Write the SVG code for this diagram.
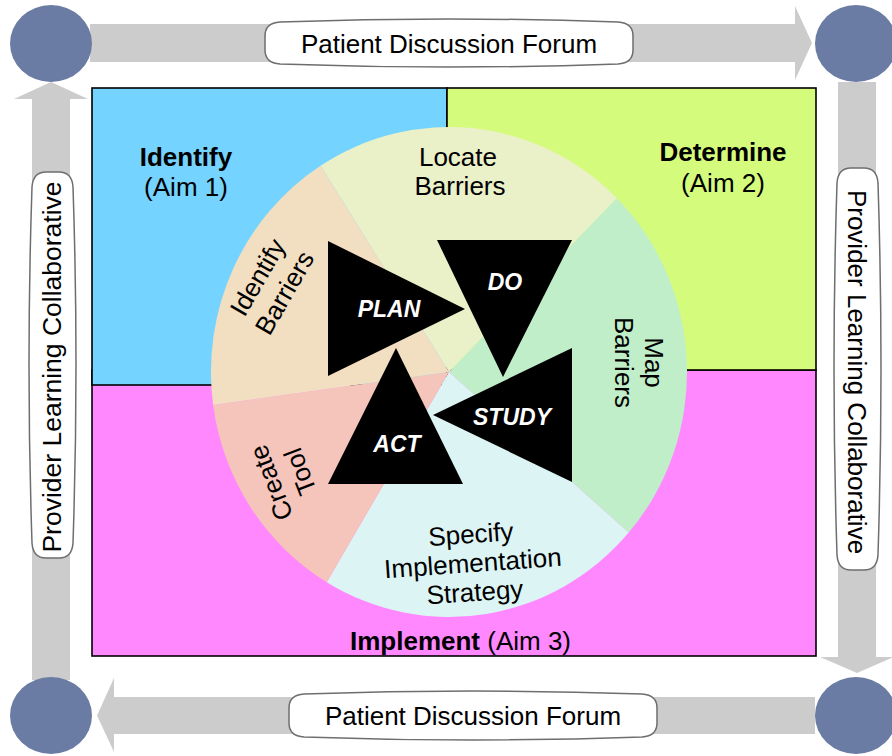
<svg xmlns="http://www.w3.org/2000/svg" width="892" height="756" viewBox="0 0 892 756">
<style>
text{font-family:"Liberation Sans",Arial,sans-serif;font-size:26px;fill:#000}
.c{text-anchor:middle}
.b{font-weight:bold}
.tri{fill:#000}
.tt{font-weight:bold;font-style:italic;fill:#fff;font-size:23px;text-anchor:middle}
.arr{fill:#CCCCCC}
.dot{fill:#6A7BA4}
.lab{fill:#fff;stroke:#6E6E6E;stroke-width:1.5}
.q{stroke:#000;stroke-width:1.6}
</style>
<g id="quadrants">
<rect id="implement" class="q" x="92" y="370" width="724" height="286" fill="#FF88FF"/>
<rect id="identify" class="q" x="92" y="88" width="355" height="297" fill="#74D3FF"/>
<rect id="determine" class="q" x="447" y="88" width="369" height="282" fill="#D5FB7D"/>
</g>
<g id="pie">
<path id="seg-locate" d="M449 372 L320.5 165.8 A238 245 0 0 1 616.8 198.2 Z" fill="#EAF0C8"/>
<path id="seg-map" d="M449 372 L616.8 198.2 A238 245 0 0 1 628.7 532.6 Z" fill="#C0EEC8"/>
<path id="seg-specify" d="M449 372 L628.7 532.6 A238 245 0 0 1 326.7 582.2 Z" fill="#DCF4F4"/>
<path id="seg-create" d="M449 372 L326.7 582.2 A238 245 0 0 1 213.1 405 Z" fill="#F5C4BA"/>
<path id="seg-identify" d="M449 372 L213.1 405 A238 245 0 0 1 320.5 165.8 Z" fill="#F2DEC0"/>
</g>
<g id="connectors">
<path id="arrow-top" class="arr" d="M90 24 L795 24 L795 6 L812 43 L795 80 L795 62 L90 62 Z"/>
<path id="arrow-right" class="arr" d="M838 82 L876 82 L876 657 L894 657 L857 673 L820 657 L838 657 Z"/>
<path id="arrow-bottom" class="arr" d="M815 697 L815 734 L114 734 L114 752 L97 715.5 L114 678 L114 697 Z"/>
<path id="arrow-left" class="arr" d="M32 680 L32 99 L14 99 L51 82 L88 99 L70 99 L70 680 Z"/>
</g>
<g id="corner-tl"><ellipse class="dot" cx="51" cy="43.5" rx="41" ry="38.5"/></g>
<g id="corner-tr"><ellipse class="dot" cx="856" cy="43.5" rx="41" ry="38.5"/></g>
<g id="corner-bl"><ellipse class="dot" cx="51" cy="715.5" rx="41" ry="38.5"/></g>
<g id="corner-br"><ellipse class="dot" cx="856" cy="715.5" rx="41" ry="38.5"/></g>
<g id="label-top">
<path class="lab" d="M280 22 Q449 16 618 22 Q633 23 633 36 L633 50 Q633 63 618 64 Q449 70 280 64 Q265 63 265 50 L265 36 Q265 23 280 22 Z"/>
<text class="c" x="449" y="53">Patient Discussion Forum</text>
</g>
<g id="label-bottom">
<path class="lab" d="M304 694 Q473 688 642 694 Q657 695 657 708 L657 723 Q657 736 642 737 Q473 743 304 737 Q289 736 289 723 L289 708 Q289 695 304 694 Z"/>
<text class="c" x="473" y="725">Patient Discussion Forum</text>
</g>
<g id="label-left">
<path class="lab" d="M32 187 Q26 365 32 543 Q33 558 46 558 L59 558 Q72 558 73 543 Q79 365 73 187 Q72 172 59 172 L46 172 Q33 172 32 187 Z"/>
<text class="c" transform="translate(61 367) rotate(-90)" style="font-size:26.5px">Provider Learning Collaborative</text>
</g>
<g id="label-right">
<path class="lab" d="M837 183 Q831 369 837 555 Q838 570 851 570 L864 570 Q877 570 878 555 Q884 369 878 183 Q877 168 864 168 L851 168 Q838 168 837 183 Z"/>
<text class="c" transform="translate(848 372) rotate(90)" style="font-size:26px">Provider Learning Collaborative</text>
</g>
<g id="text-identify">
<text class="c b" x="186" y="166">Identify</text>
<text class="c" x="186" y="196">(Aim 1)</text>
</g>
<g id="text-determine">
<text class="c b" x="723" y="161">Determine</text>
<text class="c" x="723" y="192">(Aim 2)</text>
</g>
<g id="text-implement">
<text x="350" y="650"><tspan class="b">Implement</tspan> (Aim 3)</text>
</g>
<g id="text-locate">
<text class="c" x="458" y="166">Locate</text>
<text class="c" x="460" y="195">Barriers</text>
</g>
<g id="text-identify-barriers" transform="translate(271 285) rotate(-60)">
<text class="c" x="0" y="-6.5">Identify</text>
<text class="c" x="0" y="24.5">Barriers</text>
</g>
<g id="text-map-barriers" transform="translate(639 362.5) rotate(90)">
<text class="c" x="0" y="-6">Map</text>
<text class="c" x="0" y="24">Barriers</text>
</g>
<g id="text-create-tool" transform="translate(286 477) rotate(-111)">
<text class="c" x="0" y="-7">Create</text>
<text class="c" x="0" y="24">Tool</text>
</g>
<g id="text-specify" transform="rotate(-4 473 565)">
<text class="c" x="473" y="543">Specify</text>
<text class="c" x="473" y="572">Implementation</text>
<text class="c" x="473" y="601">Strategy</text>
</g>
<g id="plan"><polygon class="tri" points="328,241 465,309 328,376"/><text class="tt" x="389" y="317">PLAN</text></g>
<g id="do"><polygon class="tri" points="437,240 572,240 503,377"/><text class="tt" x="505" y="290">DO</text></g>
<g id="study"><polygon class="tri" points="572,348 433,415 572,482"/><text class="tt" x="512" y="425">STUDY</text></g>
<g id="act"><polygon class="tri" points="396,348 328,484 463,484"/><text class="tt" x="397" y="452">ACT</text></g>
</svg>
